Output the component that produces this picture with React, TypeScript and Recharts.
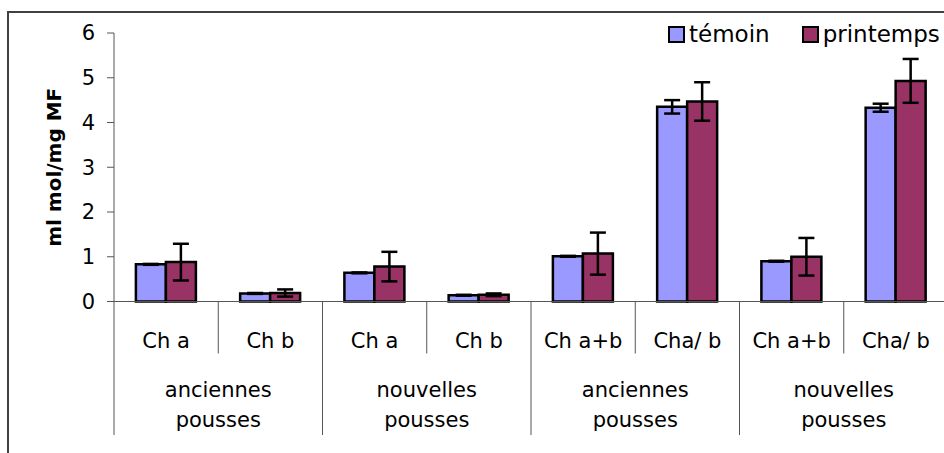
import React from 'react';
import { BarChart, Bar, XAxis, YAxis, ErrorBar, Legend, Label } from 'recharts';

const categories = ['Ch a', 'Ch b', 'Ch a', 'Ch b', 'Ch a+b', 'Cha/ b', 'Ch a+b', 'Cha/ b'];
const groupLabels = [
  ['anciennes', 'pousses'],
  ['nouvelles', 'pousses'],
  ['anciennes', 'pousses'],
  ['nouvelles', 'pousses'],
];
const temoin = [0.83, 0.18, 0.64, 0.14, 1.01, 4.35, 0.9, 4.33];
const temoinErr = [0.01, 0.01, 0.01, 0.01, 0.01, 0.15, 0.01, 0.09];
const printemps = [0.88, 0.19, 0.78, 0.15, 1.07, 4.47, 1.0, 4.93];
const printempsErr = [0.41, 0.08, 0.33, 0.03, 0.47, 0.43, 0.42, 0.49];
const yTicks = [0, 1, 2, 3, 4, 5, 6];
const seriesNames = ['témoin', 'printemps'];
const seriesColors = ['#9999FF', '#993366'];
const yLabel = 'ml mol/mg MF';

const data = categories.map((c, i) => ({
  idx: i,
  temoin: temoin[i],
  temoinErr: temoinErr[i],
  printemps: printemps[i],
  printempsErr: printempsErr[i],
}));

const FONT = '"DejaVu Sans", sans-serif';
const AXIS = '#555';

function XTick(props: any) {
  const { x, y, index, width } = props;
  const half = width / categories.length / 2;
  const left = x - half;
  const groupStart = index % 2 === 0;
  const last = index === categories.length - 1;
  const g = groupLabels[Math.floor(index / 2)];
  return (
    <g>
      <line x1={left} x2={left} y1={y} y2={y + (groupStart ? 133.5 : 52)} stroke={AXIS} strokeWidth={1} />
      {last && <line x1={x + half} x2={x + half} y1={y} y2={y + 133.5} stroke={AXIS} strokeWidth={1} />}
      <text x={x} y={y + 46.5} textAnchor="middle" fontFamily={FONT} fontSize={21} fill="#000">
        {categories[index]}
      </text>
      {groupStart && (
        <text textAnchor="middle" fontFamily={FONT} fontSize={21} fill="#000">
          <tspan x={x + half} y={y + 95.5}>{g[0]}</tspan>
          <tspan x={x + half} y={y + 125.5}>{g[1]}</tspan>
        </text>
      )}
    </g>
  );
}

function YLabel(props: any) {
  const vb = props.viewBox || { x: 0, y: 33, width: 114, height: 268 };
  const cx = vb.x + 61;
  const cy = vb.y + vb.height / 2;
  return (
    <text
      x={cx}
      y={cy}
      textAnchor="middle"
      fontFamily={FONT}
      fontWeight="bold"
      fontSize={20}
      fill="#000"
      transform={`rotate(-90 ${cx} ${cy})`}
    >
      {yLabel}
    </text>
  );
}

function renderLegend() {
  return (
    <div style={{ display: 'flex', alignItems: 'center', fontFamily: FONT, fontSize: 23, color: '#000', lineHeight: '30px' }}>
      {seriesNames.map((n, i) => (
        <div key={n} style={{ display: 'flex', alignItems: 'center', marginRight: i === 0 ? 32 : 0 }}>
          <span
            style={{
              display: 'inline-block',
              width: 13,
              height: 13,
              border: '2px solid #000',
              background: seriesColors[i],
              marginRight: 4,
            }}
          />
          <span>{n}</span>
        </div>
      ))}
    </div>
  );
}

export default function App() {
  return (
    <div style={{ position: 'absolute', left: 0, top: 0, width: 944, height: 453, overflow: 'hidden', background: '#fff' }}>
      <div
        style={{
          position: 'absolute',
          left: 7,
          top: 11,
          width: 980,
          height: 480,
          borderTop: '2px solid #404040',
          borderLeft: '2px solid #404040',
        }}
      />
      <BarChart
        width={960}
        height={453}
        data={data}
        margin={{ top: 33, right: 12, bottom: 0, left: 0 }}
        barCategoryGap="21%"
        barGap={0}
      >
        <XAxis
          dataKey="idx"
          type="category"
          height={151.5}
          interval={0}
          tickLine={false}
          tickSize={0}
          tickMargin={0}
          axisLine={{ stroke: AXIS, strokeWidth: 1 }}
          tick={<XTick />}
        />
        <YAxis
          width={114}
          domain={[0, 6]}
          ticks={yTicks}
          interval={0}
          tickSize={7}
          tickMargin={12}
          axisLine={{ stroke: AXIS, strokeWidth: 1 }}
          tickLine={{ stroke: AXIS, strokeWidth: 1 }}
          tick={{ fontFamily: FONT, fontSize: 21, fill: '#000' }}
        >
          <Label content={<YLabel />} />
        </YAxis>
        <Legend
          verticalAlign="middle"
          align="center"
          content={renderLegend}
          wrapperStyle={{ position: 'absolute', left: 668, top: 19, width: 300, height: 30 }}
        />
        <Bar dataKey="temoin" name={seriesNames[0]} fill={seriesColors[0]} stroke="#000" strokeWidth={2.5} isAnimationActive={false}>
          <ErrorBar dataKey="temoinErr" direction="y" width={8} stroke="#000" strokeWidth={2.5} isAnimationActive={false} />
        </Bar>
        <Bar dataKey="printemps" name={seriesNames[1]} fill={seriesColors[1]} stroke="#000" strokeWidth={2.5} isAnimationActive={false}>
          <ErrorBar dataKey="printempsErr" direction="y" width={8} stroke="#000" strokeWidth={2.5} isAnimationActive={false} />
        </Bar>
      </BarChart>
    </div>
  );
}
